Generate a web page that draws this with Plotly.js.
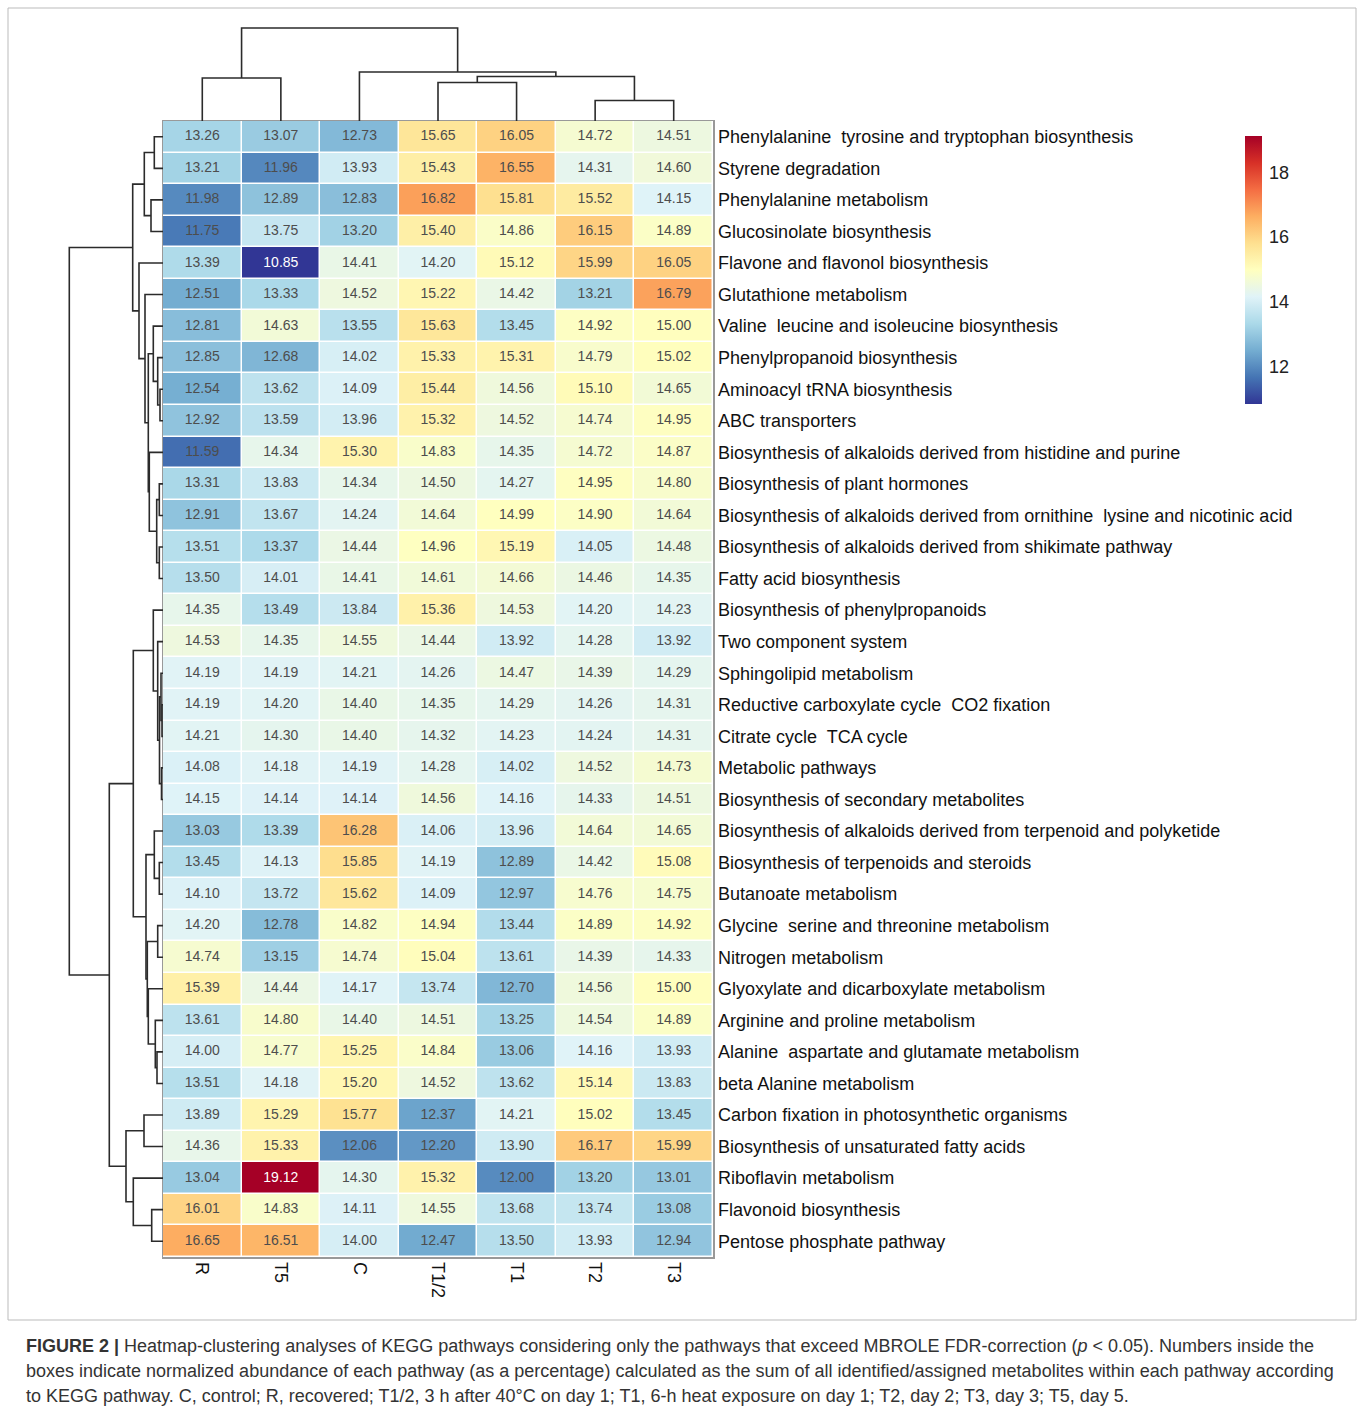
<!DOCTYPE html>
<html>
<head>
<meta charset="utf-8">
<script src="https://cdn.plot.ly/plotly-3.0.1.min.js"></script>
<style>html,body{margin:0;padding:0;background:#fff;}</style>
</head>
<body>
<div id="chart" style="width:1358px;height:1413px;"></div>
<script>
// ---------- data ----------
const columns = ['R', 'T5', 'C', 'T1/2', 'T1', 'T2', 'T3'];

const pathways = [
  'Phenylalanine\u00a0 tyrosine and tryptophan biosynthesis',
  'Styrene degradation',
  'Phenylalanine metabolism',
  'Glucosinolate biosynthesis',
  'Flavone and flavonol biosynthesis',
  'Glutathione metabolism',
  'Valine\u00a0 leucine and isoleucine biosynthesis',
  'Phenylpropanoid biosynthesis',
  'Aminoacyl tRNA biosynthesis',
  'ABC transporters',
  'Biosynthesis of alkaloids derived from histidine and purine',
  'Biosynthesis of plant hormones',
  'Biosynthesis of alkaloids derived from ornithine\u00a0 lysine and nicotinic acid',
  'Biosynthesis of alkaloids derived from shikimate pathway',
  'Fatty acid biosynthesis',
  'Biosynthesis of phenylpropanoids',
  'Two component system',
  'Sphingolipid metabolism',
  'Reductive carboxylate cycle\u00a0 CO2 fixation',
  'Citrate cycle\u00a0 TCA cycle',
  'Metabolic pathways',
  'Biosynthesis of secondary metabolites',
  'Biosynthesis of alkaloids derived from terpenoid and polyketide',
  'Biosynthesis of terpenoids and steroids',
  'Butanoate metabolism',
  'Glycine\u00a0 serine and threonine metabolism',
  'Nitrogen metabolism',
  'Glyoxylate and dicarboxylate metabolism',
  'Arginine and proline metabolism',
  'Alanine\u00a0 aspartate and glutamate metabolism',
  'beta Alanine metabolism',
  'Carbon fixation in photosynthetic organisms',
  'Biosynthesis of unsaturated fatty acids',
  'Riboflavin metabolism',
  'Flavonoid biosynthesis',
  'Pentose phosphate pathway'
];

// rows follow pathways, columns follow `columns`
const values = [
  [13.26, 13.07, 12.73, 15.65, 16.05, 14.72, 14.51],
  [13.21, 11.96, 13.93, 15.43, 16.55, 14.31, 14.60],
  [11.98, 12.89, 12.83, 16.82, 15.81, 15.52, 14.15],
  [11.75, 13.75, 13.20, 15.40, 14.86, 16.15, 14.89],
  [13.39, 10.85, 14.41, 14.20, 15.12, 15.99, 16.05],
  [12.51, 13.33, 14.52, 15.22, 14.42, 13.21, 16.79],
  [12.81, 14.63, 13.55, 15.63, 13.45, 14.92, 15.00],
  [12.85, 12.68, 14.02, 15.33, 15.31, 14.79, 15.02],
  [12.54, 13.62, 14.09, 15.44, 14.56, 15.10, 14.65],
  [12.92, 13.59, 13.96, 15.32, 14.52, 14.74, 14.95],
  [11.59, 14.34, 15.30, 14.83, 14.35, 14.72, 14.87],
  [13.31, 13.83, 14.34, 14.50, 14.27, 14.95, 14.80],
  [12.91, 13.67, 14.24, 14.64, 14.99, 14.90, 14.64],
  [13.51, 13.37, 14.44, 14.96, 15.19, 14.05, 14.48],
  [13.50, 14.01, 14.41, 14.61, 14.66, 14.46, 14.35],
  [14.35, 13.49, 13.84, 15.36, 14.53, 14.20, 14.23],
  [14.53, 14.35, 14.55, 14.44, 13.92, 14.28, 13.92],
  [14.19, 14.19, 14.21, 14.26, 14.47, 14.39, 14.29],
  [14.19, 14.20, 14.40, 14.35, 14.29, 14.26, 14.31],
  [14.21, 14.30, 14.40, 14.32, 14.23, 14.24, 14.31],
  [14.08, 14.18, 14.19, 14.28, 14.02, 14.52, 14.73],
  [14.15, 14.14, 14.14, 14.56, 14.16, 14.33, 14.51],
  [13.03, 13.39, 16.28, 14.06, 13.96, 14.64, 14.65],
  [13.45, 14.13, 15.85, 14.19, 12.89, 14.42, 15.08],
  [14.10, 13.72, 15.62, 14.09, 12.97, 14.76, 14.75],
  [14.20, 12.78, 14.82, 14.94, 13.44, 14.89, 14.92],
  [14.74, 13.15, 14.74, 15.04, 13.61, 14.39, 14.33],
  [15.39, 14.44, 14.17, 13.74, 12.70, 14.56, 15.00],
  [13.61, 14.80, 14.40, 14.51, 13.25, 14.54, 14.89],
  [14.00, 14.77, 15.25, 14.84, 13.06, 14.16, 13.93],
  [13.51, 14.18, 15.20, 14.52, 13.62, 15.14, 13.83],
  [13.89, 15.29, 15.77, 12.37, 14.21, 15.02, 13.45],
  [14.36, 15.33, 12.06, 12.20, 13.90, 16.17, 15.99],
  [13.04, 19.12, 14.30, 15.32, 12.00, 13.20, 13.01],
  [16.01, 14.83, 14.11, 14.55, 13.68, 13.74, 13.08],
  [16.65, 16.51, 14.00, 12.47, 13.50, 13.93, 12.94]
];

// row dendrogram merges: [childA, childB, height]; leaves 0..35, merged clusters numbered 36+
const rowMerges = [
  [18, 19, 1.0], [17, 36, 2.0], [20, 21, 1.5], [37, 38, 3.5], [16, 39, 5.3], [15, 40, 9.7],
  [8, 9, 3.0], [7, 42, 5.3], [6, 43, 9.7], [11, 12, 3.7], [13, 14, 3.7], [45, 46, 6.3],
  [10, 47, 13.7], [44, 48, 14.7], [5, 49, 18.0], [4, 50, 24.0], [0, 1, 8.7], [2, 3, 12.0],
  [52, 53, 18.7], [54, 51, 30.3], [23, 24, 3.7], [22, 56, 8.7], [25, 26, 5.3], [29, 30, 6.0],
  [28, 59, 7.7], [27, 60, 14.7], [58, 61, 15.7], [57, 62, 17.0], [41, 63, 29.7], [31, 32, 19.0],
  [34, 35, 11.3], [33, 66, 29.7], [65, 67, 37.0], [64, 68, 53.7], [55, 69, 93.7]
];

// column dendrogram merges; leaves 0..6, merged clusters numbered 7+
const colMerges = [
  [0, 1, 43.0], [5, 6, 20.5], [3, 4, 38.5], [9, 8, 44.5], [2, 10, 49.0], [7, 11, 93.0]
];

const colorbarTicks = [12, 14, 16, 18];

// ---------- helpers ----------
function dendro(merges, nLeaves) {
  const pos = [], hgt = [];
  for (let i = 0; i < nLeaves; i++) { pos.push(i); hgt.push(0); }
  const p = [], h = [];
  merges.forEach(([a, b, ht]) => {
    p.push(pos[a], pos[a], pos[b], pos[b], null);
    h.push(hgt[a], ht, ht, hgt[b], null);
    pos.push((pos[a] + pos[b]) / 2);
    hgt.push(ht);
  });
  return { p, h };
}

const W = 1358, H = 1413;
const fx = px => px / W;
const fy = px => 1 - px / H;

const nR = pathways.length, nC = columns.length;
const flat = values.flat();
const zmin = Math.min(...flat), zmax = Math.max(...flat);

const rdylbu = ['#313695', '#4575b4', '#74add1', '#abd9e9', '#e0f3f8', '#ffffbf',
                '#fee090', '#fdae61', '#f46d43', '#d73027', '#a50026'];
const colorscale = rdylbu.map((c, i) => [i / (rdylbu.length - 1), c]);

const colIdx = columns.map((_, i) => i);
const rowIdx = pathways.map((_, i) => i);

// number labels
const tx = [], ty = [], tt = [], tc = [];
values.forEach((row, r) => row.forEach((v, c) => {
  tx.push(c); ty.push(r); tt.push(v.toFixed(2));
  const t = (v - zmin) / (zmax - zmin);
  tc.push(t < 0.03 || t > 0.97 ? '#ffffff' : '#4d4d4d');
}));

const rowD = dendro(rowMerges, nR);
const colD = dendro(colMerges, nC);

const FONT = 'Liberation Sans, Arial, Helvetica, sans-serif';
const lineStyle = { color: '#2b2b2b', width: 1.6 };

const traces = [
  {
    type: 'heatmap', x: colIdx, y: rowIdx, z: values,
    zmin, zmax, colorscale, xgap: 1.5, ygap: 1.5,
    hoverinfo: 'skip', xaxis: 'x', yaxis: 'y',
    colorbar: {
      x: fx(1245), xanchor: 'left', xpad: 0,
      y: fy(136), yanchor: 'top', ypad: 0,
      len: 268, lenmode: 'pixels', thickness: 17, thicknessmode: 'pixels',
      outlinewidth: 0, tickvals: colorbarTicks, ticks: 'outside', ticklen: 4,
      tickcolor: 'rgba(0,0,0,0)',
      tickfont: { family: FONT, size: 18, color: '#222' }
    }
  },
  {
    type: 'scatter', mode: 'text', x: tx, y: ty, text: tt,
    textfont: { family: FONT, size: 14, color: tc },
    hoverinfo: 'skip', xaxis: 'x', yaxis: 'y', showlegend: false
  },
  {
    type: 'scatter', mode: 'lines', x: rowD.h, y: rowD.p, line: lineStyle,
    hoverinfo: 'skip', xaxis: 'x2', yaxis: 'y2', showlegend: false
  },
  {
    type: 'scatter', mode: 'lines', x: colD.p, y: colD.h, line: lineStyle,
    hoverinfo: 'skip', xaxis: 'x3', yaxis: 'y3', showlegend: false
  }
];

const hmX = [fx(163), fx(713)];
const hmY = [fy(1257), fy(121)];
const capFont = { family: FONT, size: 18, color: '#333' };

const layout = {
  width: W, height: H,
  margin: { l: 0, r: 0, t: 0, b: 0 },
  paper_bgcolor: '#ffffff', plot_bgcolor: '#ffffff',
  showlegend: false,
  font: { family: FONT, color: '#111' },
  xaxis: {
    domain: hmX, range: [-0.5, nC - 0.5], tickmode: 'array', tickvals: colIdx, ticktext: columns,
    tickangle: 90, ticks: '', showgrid: false, zeroline: false,
    showline: true, mirror: true, linecolor: '#999999', linewidth: 1.5,
    tickfont: { family: FONT, size: 18, color: '#111' }, fixedrange: true
  },
  yaxis: {
    domain: hmY, range: [nR - 0.5, -0.5], tickmode: 'array', tickvals: rowIdx, ticktext: pathways,
    side: 'right', ticks: '', showgrid: false, zeroline: false,
    showline: true, mirror: true, linecolor: '#999999', linewidth: 1.5,
    tickfont: { family: FONT, size: 18, color: '#111' }, fixedrange: true
  },
  xaxis2: {
    domain: [fx(60), fx(163)], range: [103, 0], anchor: 'y2',
    visible: false, fixedrange: true
  },
  yaxis2: {
    domain: hmY, range: [nR - 0.5, -0.5], anchor: 'x2',
    visible: false, fixedrange: true
  },
  xaxis3: {
    domain: hmX, range: [-0.5, nC - 0.5], anchor: 'y3',
    visible: false, fixedrange: true
  },
  yaxis3: {
    domain: [fy(121), fy(18)], range: [0, 103], anchor: 'x3',
    visible: false, fixedrange: true
  },
  shapes: [
    {
      type: 'rect', xref: 'paper', yref: 'paper',
      x0: fx(8), x1: fx(1356), y0: fy(1320), y1: fy(8),
      line: { color: '#bbbbbb', width: 1 }, fillcolor: 'rgba(0,0,0,0)', layer: 'below'
    }
  ],
  annotations: [
    {
      xref: 'paper', yref: 'paper', x: fx(24), y: fy(1346), xanchor: 'left', yanchor: 'middle',
      showarrow: false, align: 'left', font: capFont,
      text: '<b>FIGURE 2 |</b> Heatmap-clustering analyses of KEGG pathways considering only the pathways that exceed MBROLE FDR-correction (<i>p</i> &lt; 0.05). Numbers inside the'
    },
    {
      xref: 'paper', yref: 'paper', x: fx(24), y: fy(1371), xanchor: 'left', yanchor: 'middle',
      showarrow: false, align: 'left', font: capFont,
      text: 'boxes indicate normalized abundance of each pathway (as a percentage) calculated as the sum of all identified/assigned metabolites within each pathway according'
    },
    {
      xref: 'paper', yref: 'paper', x: fx(24), y: fy(1396), xanchor: 'left', yanchor: 'middle',
      showarrow: false, align: 'left', font: capFont,
      text: 'to KEGG pathway. C, control; R, recovered; T1/2, 3 h after 40°C on day 1; T1, 6-h heat exposure on day 1; T2, day 2; T3, day 3; T5, day 5.'
    }
  ]
};

Plotly.newPlot('chart', traces, layout, { displayModeBar: false, staticPlot: true });
</script>
</body>
</html>
